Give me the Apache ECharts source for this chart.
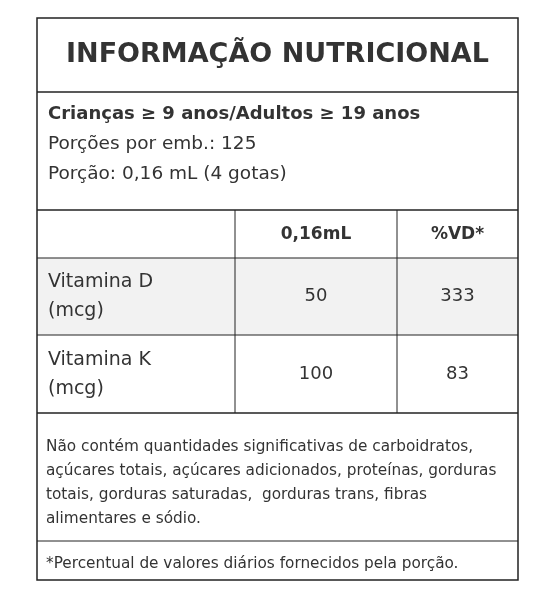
<!DOCTYPE html>
<html><head><meta charset="utf-8">
<script src="https://cdn.jsdelivr.net/npm/echarts@6/dist/echarts.min.js"></script>
<style>html,body{margin:0;padding:0;background:#fff}#c{width:553px;height:601px}</style>
</head><body><div id="c"></div>
<script>
const title = 'INFORMAÇÃO NUTRICIONAL';
const headerLines = ['Crianças ≥ 9 anos/Adultos ≥ 19 anos', 'Porções por emb.: 125', 'Porção: 0,16 mL (4 gotas)'];
const columns = ['', '0,16mL', '%VD*'];
const nutrients = [['Vitamina D', '(mcg)'], ['Vitamina K', '(mcg)']];
const amounts = ['50', '100'];
const vd = ['333', '83'];
const noteLines = ['Não contém quantidades significativas de carboidratos,', 'açúcares totais, açúcares adicionados, proteínas, gorduras', 'totais, gorduras saturadas,  gorduras trans, fibras', 'alimentares e sódio.'];
const footnote = '*Percentual de valores diários fornecidos pela porção.';

const F = '"DejaVu Sans", sans-serif', C = '#333';
const L = 37, R = 518, T = 18, B = 580;
const c1 = 235, c2 = 397;
const rowTop = [258, 335], rowH = [77, 78];
const g = [];
const line = (x1,y1,x2,y2,w=1.5)=>g.push({type:'line',shape:{x1,y1,x2,y2},style:{stroke:'#222',lineWidth:w}});
const text = (x,y,t,size,bold,align='left')=>g.push({type:'text',x,y,style:{text:t,font:(bold?'bold ':'')+size+'px '+F,fill:C,align,verticalAlign:'middle'}});
g.push({type:'rect',shape:{x:L,y:rowTop[0],width:R-L,height:rowH[0]},style:{fill:'#f2f2f2'}});
g.push({type:'rect',shape:{x:L,y:T,width:R-L,height:B-T},style:{fill:'none',stroke:'#222',lineWidth:1.5}});
text((L+R)/2, 55, title, 27, true, 'center');
line(L,92,R,92);
headerLines.forEach((t,i)=>text(48,114+i*30,t,i===0?18:18.5,i===0));
line(L,210,R,210);
line(c1,210,c1,413,1); line(c2,210,c2,413,1);
text((c1+c2)/2,235,columns[1],17,true,'center');
text((c2+R)/2,235,columns[2],17,true,'center');
line(L,258,R,258,1.2);
nutrients.forEach((n,i)=>{
  const top=rowTop[i], mid=top+rowH[i]/2;
  text(48,mid-14,n[0],19,false); text(48,mid+15,n[1],19,false);
  text((c1+c2)/2,mid,amounts[i],18,false,'center');
  text((c2+R)/2,mid,vd[i],18,false,'center');
});
line(L,335,R,335,1);
line(L,413,R,413,1.5);
noteLines.forEach((t,i)=>text(46,447+i*24,t,15.3,false));
line(L,541,R,541,1);
text(46,564,footnote,15.3,false);
echarts.init(document.getElementById('c')).setOption({graphic:g});
</script></body></html>
